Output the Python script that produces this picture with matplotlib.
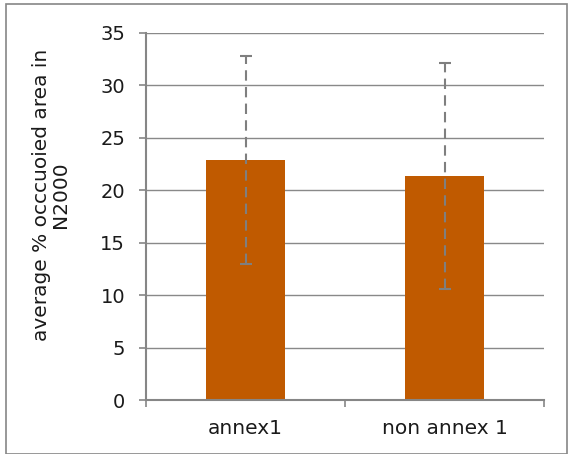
import matplotlib
matplotlib.use("Agg")
import matplotlib.pyplot as plt
from matplotlib.patches import Rectangle

categories = ["annex1", "non annex 1"]
means = [22.9, 21.35]
errors = [9.9, 10.8]
yticks = [0, 5, 10, 15, 20, 25, 30, 35]

plt.rcParams['font.family'] = ['DejaVu Sans']
FS = 14

fig = plt.figure(figsize=(5.68, 4.54), dpi=100)
W, H = 568, 454
ax = fig.add_axes([146 / W, 1 - 400 / H, (544 - 146) / W, (400 - 33) / H])

x = list(range(len(categories)))
ax.bar(x, means, width=0.4, color="#C05A00", zorder=2)
eb = ax.errorbar(x, means, yerr=errors, fmt="none", ecolor="#7F7F7F",
                 elinewidth=1.5, capsize=4, capthick=1.5, zorder=3)
for lc in eb[2]:
    lc.set_linestyle((0, (5, 3)))

ax.set_xlim(-0.5, 1.5)
ax.set_ylim(0, 35)
ax.set_yticks(yticks)
ax.set_yticklabels([str(v) for v in yticks], fontsize=FS, color="#1a1a1a")
ax.set_xticks([-0.5, 0.5, 1.5], minor=False)
ax.set_xticklabels([])
ax.set_xticks(x, minor=True)
ax.set_xticklabels(categories, minor=True, fontsize=14.5, color="#1a1a1a")
ax.tick_params(axis="x", which="minor", length=0, pad=14)
ax.tick_params(axis="x", which="major", length=5, color="#868686",
               width=1.2, direction="out")
ax.tick_params(axis="y", length=5, color="#868686", width=1.2,
               direction="out", pad=10)

ax.yaxis.grid(True, color="#898989", linewidth=1.0, zorder=0)
ax.set_axisbelow(True)
for s in ["top", "right"]:
    ax.spines[s].set_visible(False)
for s in ["left", "bottom"]:
    ax.spines[s].set_color("#868686")
    ax.spines[s].set_linewidth(1.5)

ax.set_ylabel("average % occcuoied area in\nN2000", fontsize=14.5,
              linespacing=1.0, color="#1a1a1a")
ax.yaxis.set_label_coords(-0.191, 0.56)

fig.patches.append(Rectangle((6 / W, 0), (W - 6) / W - 0.001, 1 - 4 / H,
                             transform=fig.transFigure, fill=False,
                             edgecolor="#868686", linewidth=1.2))

fig.savefig("out.png", dpi=100)
